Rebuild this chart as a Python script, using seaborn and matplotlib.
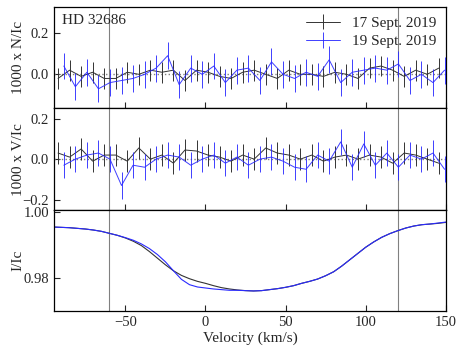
import numpy as np
import pandas as pd
import matplotlib
matplotlib.use("Agg")
import matplotlib.pyplot as plt
import seaborn as sns

# velocity grids (km/s) of the LSD profiles
vel_17 = [-92.0, -84.8, -77.6, -70.4, -63.2, -56.0, -48.8, -41.6, -34.4, -27.2, -20.0, -12.8,
          -5.6, 1.6, 8.8, 16.0, 23.2, 30.4, 37.6, 44.8, 52.0, 59.2, 66.4, 73.6, 80.8, 88.0,
          95.2, 102.4, 109.6, 116.8, 124.0, 131.2, 138.4, 145.6]
vel_19 = [-88.4, -81.2, -74.0, -66.8, -59.6, -52.4, -45.2, -38.0, -30.8, -23.6, -16.4, -9.2,
          -2.0, 5.2, 12.4, 19.6, 26.8, 34.0, 41.2, 48.4, 55.6, 62.8, 70.0, 77.2, 84.4, 91.6,
          98.8, 106.0, 113.2, 120.4, 127.6, 134.8, 142.0, 149.2]

# null profile (x1000)
n_17 = [-0.02, 0.02, -0.01, 0.01, -0.02, -0.02, 0.01, 0.0, 0.02, 0.01, 0.02, -0.03,
        0.02, 0.01, -0.01, -0.02, 0.01, 0.02, 0.0, -0.02, 0.02, 0.0, 0.0, -0.01, 0.01,
        0.0, -0.02, 0.03, 0.04, 0.02, -0.01, 0.02, 0.0, 0.03]
n_19 = [0.04, -0.06, 0.01, -0.07, -0.04, -0.03, -0.02, 0.0, 0.03, 0.09, -0.05, 0.03,
        0.0, 0.04, -0.04, 0.02, 0.03, -0.03, 0.06, 0.0, -0.02, 0.01, -0.01, 0.07, -0.04,
        0.01, 0.02, 0.03, 0.02, 0.05, -0.03, 0.0, -0.04, 0.02]
n_err_17 = 0.05
n_err_19 = 0.065

# Stokes V profile (x1000)
v_17 = [0.03, 0.01, 0.05, -0.01, 0.02, 0.02, -0.01, 0.055, 0.0, 0.02, -0.02, 0.045,
        0.04, 0.02, 0.01, -0.01, 0.02, 0.0, 0.055, 0.03, 0.02, 0.0, 0.02, -0.01, 0.01,
        0.02, 0.0, 0.02, 0.01, -0.02, 0.03, 0.02, 0.0, -0.02]
v_19 = [-0.03, 0.0, 0.02, 0.03, 0.0, -0.13, -0.03, -0.04, 0.0, 0.02, 0.01, -0.03,
        0.0, 0.02, -0.02, 0.01, -0.03, 0.0, 0.01, -0.01, -0.04, -0.05, 0.02, -0.01, 0.085,
        -0.04, 0.075, -0.03, 0.03, -0.04, 0.02, 0.0, 0.03, -0.05]
v_err_17 = 0.055
v_err_19 = 0.065

# intensity profile
vel_i = [-95, -90, -85, -80, -75, -70, -65, -60, -55, -50, -45, -40, -35, -30, -25, -20,
         -15, -10, -5, 0, 5, 10, 15, 20, 25, 30, 35, 40, 45, 50, 55, 60, 65, 70, 75, 80,
         85, 90, 95, 100, 105, 110, 115, 120, 125, 130, 135, 140, 145, 150]
i_17 = [0.9954, 0.9953, 0.9952, 0.9950, 0.9948, 0.9945, 0.9941, 0.9935, 0.9929, 0.9921,
        0.9911, 0.9898, 0.9880, 0.9860, 0.9840, 0.9822, 0.9808, 0.9798, 0.9790, 0.9784,
        0.9777, 0.9771, 0.9767, 0.9764, 0.9762, 0.9761, 0.9762, 0.9765, 0.9768, 0.9772,
        0.9777, 0.9784, 0.9790, 0.9797, 0.9807, 0.9819, 0.9836, 0.9855, 0.9874, 0.9893,
        0.9909, 0.9923, 0.9934, 0.9943, 0.9951, 0.9957, 0.9961, 0.9963, 0.9965, 0.9968]
i_19 = [0.9954, 0.9953, 0.9952, 0.9950, 0.9948, 0.9945, 0.9941, 0.9935, 0.9929, 0.9922,
        0.9914, 0.9903, 0.9889, 0.9871, 0.9849, 0.9822, 0.9796, 0.9780, 0.9773, 0.9770,
        0.9767, 0.9765, 0.9763, 0.9763, 0.9762, 0.9761, 0.9762, 0.9765, 0.9768, 0.9772,
        0.9777, 0.9784, 0.9790, 0.9797, 0.9807, 0.9819, 0.9836, 0.9855, 0.9874, 0.9893,
        0.9909, 0.9923, 0.9934, 0.9943, 0.9951, 0.9957, 0.9961, 0.9963, 0.9966, 0.9969]

vlines = [-60, 120]
labels = ["17 Sept. 2019", "19 Sept. 2019"]
col_17 = "#333333"
col_19 = "#2a2aff"

sns.set_theme(style="ticks")
plt.rcParams["font.family"] = ["Liberation Serif", "DejaVu Serif"]
plt.rcParams["font.size"] = 10.5

fig, axes = plt.subplots(3, 1, figsize=(4.62, 3.54), dpi=100, sharex=True)
fig.subplots_adjust(left=0.117, right=0.965, top=0.980, bottom=0.121, hspace=0)
ax_n, ax_v, ax_i = axes

for ax, y17, y19, e17, e19 in [(ax_n, n_17, n_19, n_err_17, n_err_19),
                               (ax_v, v_17, v_19, v_err_17, v_err_19)]:
    ax.axhline(0, color="gray", ls=":", lw=1.0, zorder=1)
    ax.errorbar(vel_17, y17, yerr=e17, color=col_17, lw=0.7, elinewidth=0.7,
                capsize=0, label=labels[0], zorder=2)
    ax.errorbar(vel_19, y19, yerr=e19, color=col_19, lw=0.7, elinewidth=0.7,
                capsize=0, label=labels[1], zorder=3, alpha=0.9)

prof = pd.DataFrame({"vel": vel_i * 2, "I": i_17 + i_19,
                     "night": [labels[0]] * len(vel_i) + [labels[1]] * len(vel_i)})
sns.lineplot(data=prof, x="vel", y="I", hue="night", palette=[col_17, col_19],
             lw=0.8, ax=ax_i, legend=False)

for ax in axes:
    for v in vlines:
        ax.axvline(v, color="gray", lw=0.8, zorder=0)
    ax.tick_params(direction="in", length=4, width=0.8, labelsize=10.5,
                   top=False, right=False)
    for s in ax.spines.values():
        s.set_linewidth(0.9)
        s.set_color("black")

ax_n.set_ylim(-0.165, 0.325)
ax_n.set_yticks([0.0, 0.2])
ax_n.set_yticklabels(["0.0", "0.2"])
ax_v.set_ylim(-0.25, 0.25)
ax_v.set_yticks([-0.2, 0.0, 0.2])
ax_v.set_yticklabels(["\u22120.2", "0.0", "0.2"])
ax_i.set_ylim(0.970, 1.0006)
ax_i.set_yticks([0.98, 1.00])
ax_i.set_yticklabels(["0.98", "1.00"])
ax_i.set_xlim(-94.5, 150)
ax_i.set_xticks([-50, 0, 50, 100, 150])

ax_n.set_ylabel("1000 x N/Ic", fontsize=11)
ax_v.set_ylabel("1000 x V/Ic", fontsize=11)
ax_i.set_ylabel("I/Ic", fontsize=11)
ax_i.set_xlabel("Velocity (km/s)", fontsize=11, labelpad=2)
for ax in axes:
    ax.yaxis.set_label_coords(-0.075, 0.5)

ax_n.text(0.02, 0.93, "HD 32686", transform=ax_n.transAxes, ha="left", va="top",
          fontsize=11)
ax_n.legend(loc="upper right", frameon=False, fontsize=11, handlelength=2.2,
            borderaxespad=0.2, labelspacing=0.3)

fig.savefig("out.png", dpi=100)
